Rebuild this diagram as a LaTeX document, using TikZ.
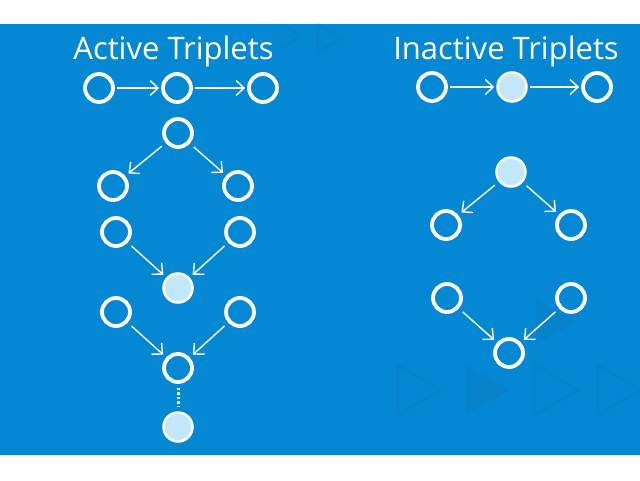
\documentclass[tikz,border=0pt]{standalone}
\usepackage{fontspec}
\setmainfont{Open Sans}
\usetikzlibrary{arrows.meta}
\definecolor{bg}{HTML}{0588D3}
\definecolor{lite}{HTML}{C2E7FB}
\definecolor{shade}{HTML}{0A6FAE}
\begin{document}
\begin{tikzpicture}[x=1pt,y=-1pt,
 nd/.style={circle,draw=white,line width=3.8pt,minimum size=28pt,inner sep=0pt},
 full/.style={nd,fill=lite,line width=2.5pt,minimum size=29pt},
 arr/.style={draw=white,line width=1.4pt,-{Straight Barb[length=8pt,width=15pt]},shorten <=2pt,shorten >=2pt},
 darr/.style={arr,shorten <=5pt,shorten >=4pt},
 ttl/.style={text=white,anchor=base,inner sep=0pt,font=\fontsize{31}{36}\selectfont},
 tri/.style={draw=shade,line width=2pt,opacity=0.2},
 trif/.style={fill=shade,opacity=0.2}]
\useasboundingbox (0,0) rectangle (640,480);
\fill[bg] (0,24) rectangle (640,455);
% faint background triangles
\draw[tri] (398,365) -- (440,390) -- (398,415) -- cycle;
\fill[trif] (465,365) -- (510,390) -- (465,415) -- cycle;
\draw[tri] (535,365) -- (578,390) -- (535,415) -- cycle;
\draw[tri] (598,365) -- (640,390) -- (598,415) -- cycle;
\fill[trif] (536,298) -- (575,322) -- (536,345) -- cycle;
\draw[tri] (282,24) -- (300,36) -- (282,48);
\draw[tri] (318,24) -- (342,38) -- (318,52) -- cycle;
% titles
\node[ttl] (t1) at (173.5,59) {Active Triplets};
\node[ttl] (t2) at (506,59) {Inactive Triplets};
% left nodes
\node[nd] (a1) at (99,88) {};
\node[nd] (a2) at (177,88) {};
\node[nd] (a3) at (263,88) {};
\node[nd] (b0) at (178,133) {};
\node[nd] (bl) at (113,186) {};
\node[nd] (br) at (238,186) {};
\node[nd] (cl) at (116,232) {};
\node[nd] (cr) at (240,232) {};
\node[full] (cm) at (178,288) {};
\node[nd] (dl) at (116,312) {};
\node[nd] (dr) at (240,312) {};
\node[nd] (dm) at (178,368) {};
\node[full] (e) at (178,427) {};
% right nodes
\node[nd] (f1) at (432,87) {};
\node[full] (f2) at (512,87) {};
\node[nd] (f3) at (597,87) {};
\node[full] (g0) at (511,172) {};
\node[nd] (gl) at (446,225) {};
\node[nd] (gr) at (571,225) {};
\node[nd] (hl) at (447,298) {};
\node[nd] (hr) at (571,298) {};
\node[nd] (hm) at (509,353) {};
% edges
\draw[arr] (a1) -- (a2);
\draw[arr] (a2) -- (a3);
\draw[darr] (b0) -- (bl);
\draw[darr] (b0) -- (br);
\draw[darr] (cl) -- (cm);
\draw[darr] (cr) -- (cm);
\draw[darr] (dl) -- (dm);
\draw[darr] (dr) -- (dm);
\draw[white,line width=3pt,dash pattern=on 2.5pt off 2pt,shorten <=4pt,shorten >=4pt] (dm) -- (e);
\draw[arr] (f1) -- (f2);
\draw[arr] (f2) -- (f3);
\draw[darr] (g0) -- (gl);
\draw[darr] (g0) -- (gr);
\draw[darr] (hl) -- (hm);
\draw[darr] (hr) -- (hm);
\end{tikzpicture}
\end{document}
